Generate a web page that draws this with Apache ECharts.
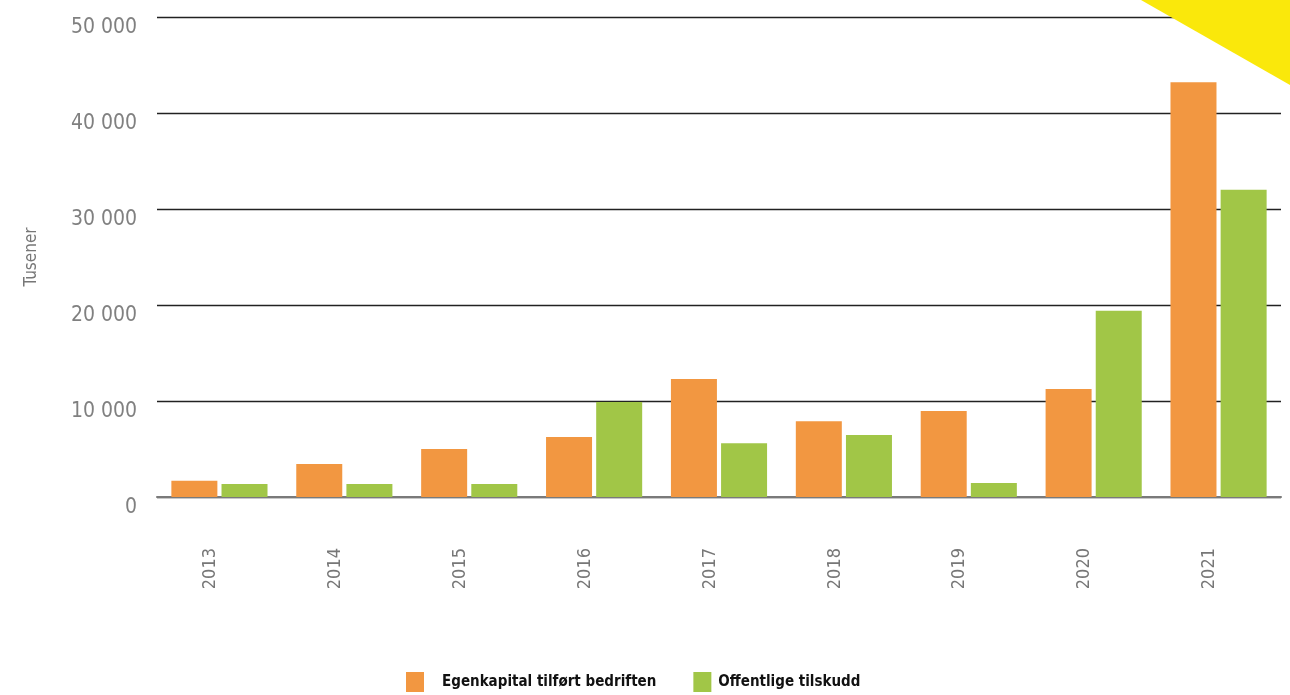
<!DOCTYPE html>
<html>
<head>
<meta charset="utf-8">
<script src="https://cdn.jsdelivr.net/npm/echarts@6/dist/echarts.min.js"></script>
<style>
  html, body { margin: 0; padding: 0; background: #fff; }
  #chart { width: 1290px; height: 695px; }
</style>
</head>
<body>
<div id="chart"></div>
<script>
var years = ['2013', '2014', '2015', '2016', '2017', '2018', '2019', '2020', '2021'];
var egenkapital = [1700, 3450, 5000, 6250, 12300, 7900, 8950, 11250, 43200];
var tilskudd = [1350, 1350, 1350, 9900, 5600, 6450, 1450, 19400, 32000];
var seriesNames = ['Egenkapital tilført bedriften', 'Offentlige tilskudd'];
var yTicks = { min: 0, max: 50000, interval: 10000 };

var chart = echarts.init(document.getElementById('chart'));
var labelFont = "'Liberation Sans Narrow', 'DejaVu Sans Condensed', sans-serif";

chart.setOption({
  backgroundColor: '#fff',
  animation: false,
  color: ['#F29741', '#A1C647'],
  grid: {
    left: 157,
    right: 9,
    top: 17,
    bottom: 198,
    containLabel: false
  },
  legend: {
    left: 406,
    top: 672,
    padding: 0,
    icon: 'rect',
    itemWidth: 18,
    itemHeight: 20,
    itemGap: 37,
    data: [
      { name: seriesNames[0], textStyle: { padding: [0, 0, 0, 13] } },
      { name: seriesNames[1], textStyle: { padding: [0, 0, 0, 2] } }
    ],
    textStyle: {
      color: '#111',
      fontFamily: labelFont,
      fontWeight: 'bold',
      fontSize: 15
    }
  },
  xAxis: {
    type: 'category',
    data: years,
    axisTick: { show: false },
    axisLine: {
      show: true,
      lineStyle: { color: '#7a7a7a', width: 2 }
    },
    axisLabel: {
      rotate: 90,
      margin: 51,
      color: '#777',
      fontFamily: labelFont,
      fontSize: 18,
      verticalAlign: 'bottom'
    }
  },
  yAxis: {
    type: 'value',
    min: yTicks.min,
    max: yTicks.max,
    interval: yTicks.interval,
    name: 'Tusener',
    nameLocation: 'middle',
    nameRotate: 90,
    nameGap: 117,
    nameTextStyle: {
      color: '#777',
      fontFamily: labelFont,
      fontSize: 17
    },
    axisLine: { show: false },
    axisTick: { show: false },
    axisLabel: {
      margin: 20,
      color: '#808080',
      fontFamily: labelFont,
      fontSize: 21,
      verticalAlign: 'top',
      formatter: function (v) {
        return String(v).replace(/\B(?=(\d{3})+(?!\d))/g, ' ');
      }
    },
    splitLine: {
      show: true,
      lineStyle: { color: '#222', width: 1.3 }
    }
  },
  series: [
    {
      name: seriesNames[0],
      type: 'bar',
      barWidth: 46,
      barGap: '9%',
      data: egenkapital
    },
    {
      name: seriesNames[1],
      type: 'bar',
      barWidth: 46,
      barGap: '9%',
      data: tilskudd
    }
  ],
  graphic: [
    {
      type: 'polygon',
      z: 100,
      shape: { points: [[1141, 0], [1290, 0], [1290, 85]] },
      style: { fill: '#FAE80B' }
    }
  ]
});
</script>
</body>
</html>
